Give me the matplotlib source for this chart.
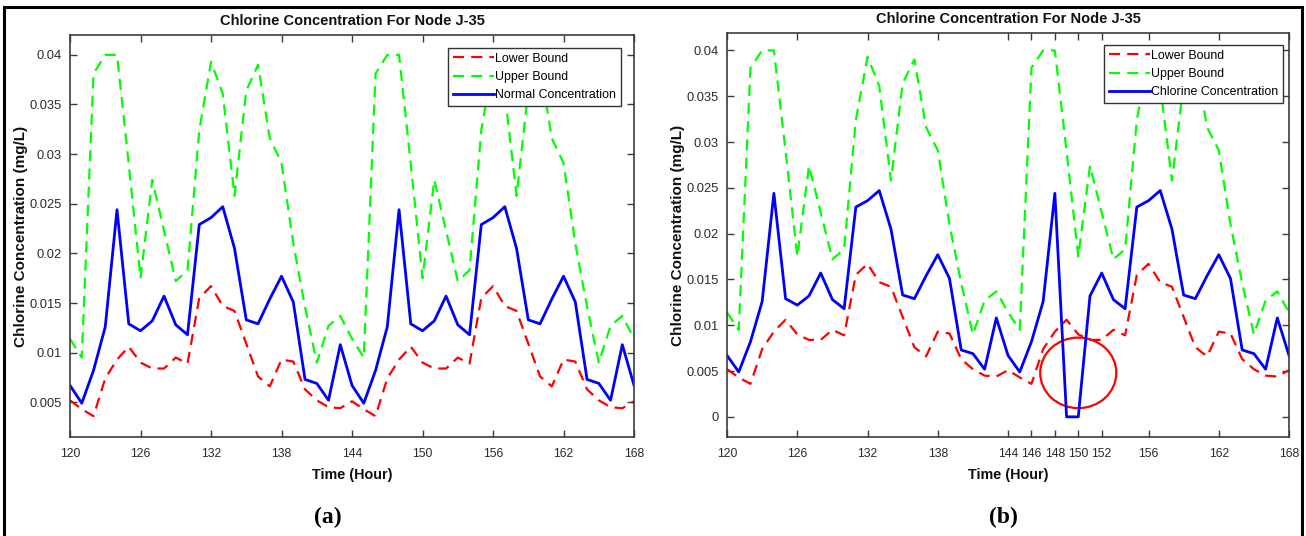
import matplotlib
matplotlib.use('Agg')
import matplotlib.pyplot as plt
from matplotlib.patches import Ellipse, Rectangle

# hours 120..168
hours = list(range(120, 169))

lower_bound = [0.0052, 0.0043, 0.0036, 0.0074, 0.0093, 0.0106, 0.0090, 0.0084, 0.0084, 0.0095,
               0.0089, 0.0155, 0.0167, 0.0147, 0.0142, 0.0109, 0.0076, 0.0066, 0.0093, 0.0091,
               0.0063, 0.0052, 0.0045, 0.0044, 0.0051,
               0.0043, 0.0036, 0.0074, 0.0093, 0.0106, 0.0090, 0.0084, 0.0084, 0.0095,
               0.0089, 0.0155, 0.0167, 0.0147, 0.0142, 0.0109, 0.0076, 0.0066, 0.0093, 0.0091,
               0.0063, 0.0052, 0.0045, 0.0044, 0.0051]

upper_bound = [0.0114, 0.0095, 0.0381, 0.0400, 0.0400, 0.0290, 0.0175, 0.0274, 0.0223, 0.0172,
               0.0183, 0.0324, 0.0393, 0.0361, 0.0258, 0.0364, 0.0390, 0.0316, 0.0291, 0.0210,
               0.0146, 0.0090, 0.0127, 0.0137, 0.0114,
               0.0095, 0.0381, 0.0400, 0.0400, 0.0290, 0.0175, 0.0274, 0.0223, 0.0172,
               0.0183, 0.0324, 0.0393, 0.0361, 0.0258, 0.0364, 0.0390, 0.0316, 0.0291, 0.0210,
               0.0146, 0.0090, 0.0127, 0.0137, 0.0114]

normal_conc = [0.0067, 0.0049, 0.0082, 0.0126, 0.0244, 0.0129, 0.0122, 0.0132, 0.0157, 0.0128,
               0.0118, 0.0229, 0.0236, 0.0247, 0.0205, 0.0133, 0.0129, 0.0154, 0.0177, 0.0151,
               0.0073, 0.0069, 0.0052, 0.0108, 0.0067,
               0.0049, 0.0082, 0.0126, 0.0244, 0.0129, 0.0122, 0.0132, 0.0157, 0.0128,
               0.0118, 0.0229, 0.0236, 0.0247, 0.0205, 0.0133, 0.0129, 0.0154, 0.0177, 0.0151,
               0.0073, 0.0069, 0.0052, 0.0108, 0.0067]

# attacked case: same as normal except hours 149-150 drop to zero
chlorine_conc = [0.0067, 0.0049, 0.0082, 0.0126, 0.0244, 0.0129, 0.0122, 0.0132, 0.0157, 0.0128,
                 0.0118, 0.0229, 0.0236, 0.0247, 0.0205, 0.0133, 0.0129, 0.0154, 0.0177, 0.0151,
                 0.0073, 0.0069, 0.0052, 0.0108, 0.0067,
                 0.0049, 0.0082, 0.0126, 0.0244, 0.0, 0.0, 0.0132, 0.0157, 0.0128,
                 0.0118, 0.0229, 0.0236, 0.0247, 0.0205, 0.0133, 0.0129, 0.0154, 0.0177, 0.0151,
                 0.0073, 0.0069, 0.0052, 0.0108, 0.0067]

xticks_a = [120, 126, 132, 138, 144, 150, 156, 162, 168]
xticks_b = [120, 126, 132, 138, 144, 146, 148, 150, 152, 156, 162, 168]
yticks_a = [0.005, 0.01, 0.015, 0.02, 0.025, 0.03, 0.035, 0.04]
yticks_b = [0, 0.005, 0.01, 0.015, 0.02, 0.025, 0.03, 0.035, 0.04]
ytick_labels_a = ['0.005', '0.01', '0.015', '0.02', '0.025', '0.03', '0.035', '0.04']
ytick_labels_b = ['0'] + ytick_labels_a

plt.rcParams['font.family'] = ['Liberation Sans', 'DejaVu Sans']

fig = plt.figure(figsize=(13.06, 5.36), dpi=100)
ax_a = fig.add_axes([0.0536, 0.1847, 0.4319, 0.750])
ax_b = fig.add_axes([0.5567, 0.1847, 0.4303, 0.7537])

spine_col = '#3c3c3c'
text_col = '#2a2a2a'


def style_axes(ax, xticks, yticks, ylabels, ylim, title):
    ax.set_xlim(120, 168)
    ax.set_ylim(*ylim)
    ax.set_xticks(xticks)
    ax.set_xticklabels([str(t) for t in xticks])
    ax.set_yticks(yticks)
    ax.set_yticklabels(ylabels)
    ax.tick_params(direction='in', top=True, right=True, length=5, width=1,
                   color=spine_col, labelcolor=text_col, pad=6)
    ax.tick_params(axis='x', labelsize=8.8, pad=8)
    ax.tick_params(axis='y', labelsize=9.3)
    for s in ax.spines.values():
        s.set_color(spine_col)
        s.set_linewidth(1.2)
    ax.set_title(title, fontsize=10.5, fontweight='bold', color='#111111', pad=7)
    ax.set_xlabel('Time (Hour)', fontsize=10.4, fontweight='bold', color='#111111', labelpad=6)
    ax.set_ylabel('Chlorine Concentration (mg/L)', fontsize=11, fontweight='bold',
                  color='#111111', labelpad=1)


for ax, conc, name in [(ax_a, normal_conc, 'Normal Concentration'),
                       (ax_b, chlorine_conc, 'Chlorine Concentration')]:
    ax.plot(hours, lower_bound, color='#ff0000', lw=1.6, dashes=(5, 3.2), label='Lower Bound')
    ax.plot(hours, upper_bound, color='#00ff00', lw=1.6, dashes=(5, 3.2), label='Upper Bound')
    ax.plot(hours, conc, color='#0000ff', lw=2.0, label=name)

style_axes(ax_a, xticks_a, yticks_a, ytick_labels_a, (0.0015, 0.042),
           'Chlorine Concentration For Node J-35')
style_axes(ax_b, xticks_b, yticks_b, ytick_labels_b, (-0.0022, 0.0419),
           'Chlorine Concentration For Node J-35')

for ax, anchor in [(ax_a, (0.977, 0.968)), (ax_b, (0.989, 0.971))]:
    leg = ax.legend(loc='upper right', bbox_to_anchor=anchor, fontsize=8.9,
                    frameon=True, fancybox=False, framealpha=1, edgecolor='#333333',
                    handlelength=3.3, handletextpad=0.1, borderpad=0.4,
                    labelspacing=0.5, borderaxespad=0)
    leg.get_frame().set_linewidth(1.0)

# circle marking the anomaly
ax_b.add_patch(Ellipse((150, 0.0048), 6.5, 0.0077, fill=False, edgecolor='#ff0000', lw=1.6))

serif = ['Liberation Serif', 'DejaVu Serif']
fig.text(328 / 1306, 1 - 517 / 536, '(a)', fontsize=17, fontweight='bold', family=serif,
         ha='center', va='center')
fig.text(1003 / 1306, 1 - 517 / 536, '(b)', fontsize=17, fontweight='bold', family=serif,
         ha='center', va='center')

# outer frame around the whole figure
fig.patches.append(Rectangle((4 / 1306, -0.02), 1298 / 1306, 1.007, transform=fig.transFigure,
                             fill=False, edgecolor='black', lw=2.2))

fig.savefig('out.png', dpi=100)
